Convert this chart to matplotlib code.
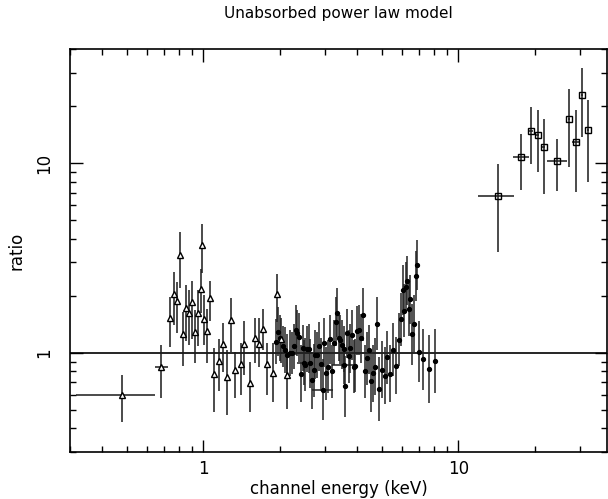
import matplotlib
matplotlib.use("Agg")
import matplotlib.pyplot as plt
import numpy as np
from matplotlib.ticker import LogLocator, NullFormatter, FixedLocator, FixedFormatter

# ---------------- data ----------------
# low-energy set (triangles)
tri_E  = [0.481, 0.684, 0.738, 0.765, 0.788, 0.810, 0.832, 0.858, 0.879, 0.903,
          0.928, 0.950, 0.976, 0.991, 1.009, 1.034, 1.065, 1.100, 1.152, 1.198,
          1.242, 1.280, 1.330, 1.400, 1.444, 1.520, 1.600, 1.658, 1.714, 1.778,
          1.870, 1.950, 2.020, 2.130]
tri_R  = [0.596, 0.844, 1.52, 2.04, 1.88, 3.28, 1.25, 1.72, 1.62, 1.85,
          1.29, 1.62, 2.16, 3.70, 1.51, 1.30, 1.95, 0.775, 0.911, 1.12,
          0.75, 1.49, 0.807, 0.868, 1.12, 0.69, 1.20, 1.115, 1.34, 0.875,
          0.78, 2.04, 1.19, 0.76]
tri_lo = [0.43, 0.58, 1.07, 1.40, 1.28, 2.19, 0.854, 1.15, 1.10, 1.19,
          0.889, 1.08, 1.63, 2.63, 1.10, 0.883, 1.48, 0.485, 0.626, 0.788,
          0.472, 1.016, 0.578, 0.601, 0.766, 0.485, 0.883, 0.847, 1.03, 0.596,
          0.55, 1.46, 0.883, 0.505]
tri_hi = [0.76, 1.10, 1.98, 2.66, 2.36, 4.35, 1.65, 2.28, 2.15, 2.40,
          1.68, 2.15, 2.76, 4.77, 2.02, 1.70, 2.40, 1.06, 1.18, 1.44,
          1.03, 1.94, 1.016, 1.125, 1.48, 0.90, 1.52, 1.53, 1.70, 1.125,
          1.125, 2.60, 1.52, 1.016]
tri_Elo = [0.317, 0.648]
tri_Ehi = [0.648, 0.725]

# mid-energy set (dots)
dot_E = [1.92, 1.96, 2.00, 2.05, 2.10, 2.13, 2.18, 2.23, 2.26, 2.30,
         2.34, 2.38, 2.42, 2.47, 2.51, 2.55, 2.59, 2.63, 2.66, 2.71,
         2.75, 2.79, 2.83, 2.89, 2.98, 3.04, 3.07, 3.13, 3.20,
         3.25, 3.31, 3.34, 3.40, 3.45, 3.50, 3.55, 3.61, 3.66, 3.73,
         3.77, 3.84, 3.89, 3.95, 4.01, 4.07, 4.15, 4.23, 4.32, 4.38,
         4.46, 4.55, 4.63, 4.73, 4.80, 4.90, 5.02, 5.17, 5.25, 5.41,
         5.54, 5.70, 5.83, 5.96, 6.07, 6.14, 6.23, 6.29, 6.39, 6.48,
         6.60, 6.72, 6.84, 6.89, 6.99, 7.27, 7.65, 8.13]
dot_R = [1.147, 1.295, 1.195, 1.080, 1.037, 0.976, 0.996, 0.996, 1.080, 1.321,
         1.269, 1.209, 0.775, 1.058, 0.865, 1.050, 1.050, 0.882, 0.715, 0.807,
         0.976, 0.976, 1.080, 0.872, 1.133, 0.782, 0.847, 1.180, 0.798,
         1.133, 1.462, 1.630, 1.195, 1.171, 1.102, 1.045, 0.665, 1.269, 0.957,
         1.058, 1.244, 0.847, 0.854, 1.311, 1.321, 1.195, 1.585, 0.798, 0.937,
         1.037, 0.707, 0.782, 0.847, 1.421, 0.644, 0.814, 0.757, 0.949, 0.775,
         1.037, 0.854, 1.171, 1.504, 2.146, 1.670, 2.234, 2.402, 1.697, 1.917,
         1.254, 1.421, 2.543, 2.905, 1.016, 0.926, 0.820, 0.908]
dot_dlog = [0.12, 0.13, 0.12, 0.11, 0.12, 0.11, 0.12, 0.11, 0.12, 0.13,
            0.12, 0.13, 0.15, 0.12, 0.14, 0.12, 0.13, 0.13, 0.15, 0.14,
            0.13, 0.12, 0.13, 0.14, 0.13, 0.14, 0.14, 0.13, 0.14,
            0.12, 0.13, 0.13, 0.12, 0.13, 0.13, 0.12, 0.16, 0.13, 0.14,
            0.13, 0.13, 0.14, 0.14, 0.13, 0.13, 0.13, 0.14, 0.14, 0.14,
            0.13, 0.16, 0.15, 0.15, 0.14, 0.17, 0.15, 0.15, 0.14, 0.15,
            0.14, 0.15, 0.14, 0.14, 0.13, 0.14, 0.13, 0.13, 0.14, 0.13,
            0.16, 0.15, 0.13, 0.13, 0.16, 0.16, 0.18, 0.17]
# wide-bin dots
wide_E   = [2.49, 2.95, 3.55]
wide_R   = [0.889, 0.639, 0.865]
wide_Elo = [2.33, 2.67, 3.19]
wide_Ehi = [2.66, 3.24, 3.95]
wide_dlog = [0.12, 0.16, 0.10]

# high-energy set (squares)
sq_E   = [14.3, 17.6, 19.3, 20.5, 21.6, 24.4, 27.2, 28.9, 30.5, 32.3]
sq_R   = [6.68, 10.75, 14.8, 14.0, 12.1, 10.3, 17.2, 13.0, 22.9, 14.9]
sq_lo  = [3.40, 7.20, 9.9, 9.0, 6.9, 7.15, 9.6, 7.06, 13.75, 7.97]
sq_hi  = [9.96, 14.3, 19.8, 19.0, 17.2, 13.4, 24.7, 19.0, 31.9, 21.6]
sq_Elo = [12.0, 16.4, 19.0, 20.2, 21.3, 22.2, 26.9, 28.0, 30.2, 32.0]
sq_Ehi = [16.6, 18.9, 19.6, 20.8, 21.9, 26.8, 27.5, 29.8, 30.8, 32.6]

title = "Unabsorbed power law model"
xlabel = "channel energy (keV)"
ylabel = "ratio"

# ---------------- plot ----------------
plt.rcParams['font.family'] = ['DejaVu Sans']
fig = plt.figure(figsize=(6.08, 4.99), dpi=100)
ax = fig.add_axes([70/608, 47/499, 537/608, 403/499])
ax.set_xscale('log')
ax.set_yscale('log')
ax.set_xlim(0.3, 38.3)
ax.set_ylim(0.3, 40)

ecol = '#1a1a1a'
lw = 1.1

ax.axhline(1.0, color='black', lw=1.2, zorder=1)

tE = np.array(tri_E); tR = np.array(tri_R)
yerr_t = [tR - np.array(tri_lo), np.array(tri_hi) - tR]
ax.errorbar(tE, tR, yerr=yerr_t, fmt='none', ecolor=ecol, elinewidth=lw, capsize=0)
xe = np.zeros((2, len(tE)))
xe[0, :2] = tE[:2] - np.array(tri_Elo)
xe[1, :2] = np.array(tri_Ehi) - tE[:2]
ax.errorbar(tE, tR, xerr=xe, fmt='none', ecolor=ecol, elinewidth=lw, capsize=0)
ax.plot(tE, tR, linestyle='none', marker='^', ms=4.8, mfc='white', mec='black', mew=1.0, zorder=3)

dE = np.array(dot_E); dR = np.array(dot_R); dd = np.array(dot_dlog)
yerr_d = [dR - dR * 10**(-dd), dR * 10**dd - dR]
ax.errorbar(dE, dR, yerr=yerr_d, fmt='o', ms=2.8, color='black', ecolor='#222222',
            elinewidth=1.1, capsize=0, zorder=2)

wE = np.array(wide_E); wR = np.array(wide_R); wd = np.array(wide_dlog)
ax.errorbar(wE, wR, xerr=[wE - np.array(wide_Elo), np.array(wide_Ehi) - wE],
            yerr=[wR - wR * 10**(-wd), wR * 10**wd - wR],
            fmt='o', ms=2.8, color='black', ecolor='#222222', elinewidth=1.1, capsize=0, zorder=2)

sE = np.array(sq_E); sR = np.array(sq_R)
ax.errorbar(sE, sR, xerr=[sE - np.array(sq_Elo), np.array(sq_Ehi) - sE],
            yerr=[sR - np.array(sq_lo), np.array(sq_hi) - sR],
            fmt='none', ecolor=ecol, elinewidth=lw, capsize=0)
ax.plot(sE, sR, linestyle='none', marker='s', ms=4.5, mfc='none', mec='black', mew=1.0, zorder=3)

# ticks
ax.tick_params(which='both', direction='in', top=True, right=True, width=1.0, colors='black')
ax.tick_params(which='major', length=9, labelsize=12)
ax.tick_params(which='minor', length=4.5)
ax.xaxis.set_major_locator(FixedLocator([1, 10]))
ax.xaxis.set_major_formatter(FixedFormatter(['1', '10']))
ax.xaxis.set_minor_locator(LogLocator(base=10, subs=np.arange(2, 10)))
ax.xaxis.set_minor_formatter(NullFormatter())
ax.yaxis.set_major_locator(FixedLocator([1, 10]))
ax.yaxis.set_major_formatter(FixedFormatter(['1', '10']))
ax.yaxis.set_minor_locator(LogLocator(base=10, subs=np.arange(2, 10)))
ax.yaxis.set_minor_formatter(NullFormatter())
for lab in ax.get_yticklabels():
    lab.set_rotation(90)
    lab.set_va('center')
ax.tick_params(axis='y', pad=12)
ax.tick_params(axis='x', pad=6)
for s in ax.spines.values():
    s.set_linewidth(1.2)

ax.set_xlabel(xlabel, fontsize=12, labelpad=1)
ax.set_ylabel(ylabel, fontsize=12, labelpad=7)
ax.set_title(title, fontsize=11, pad=22)

fig.savefig('out.png', dpi=100)
